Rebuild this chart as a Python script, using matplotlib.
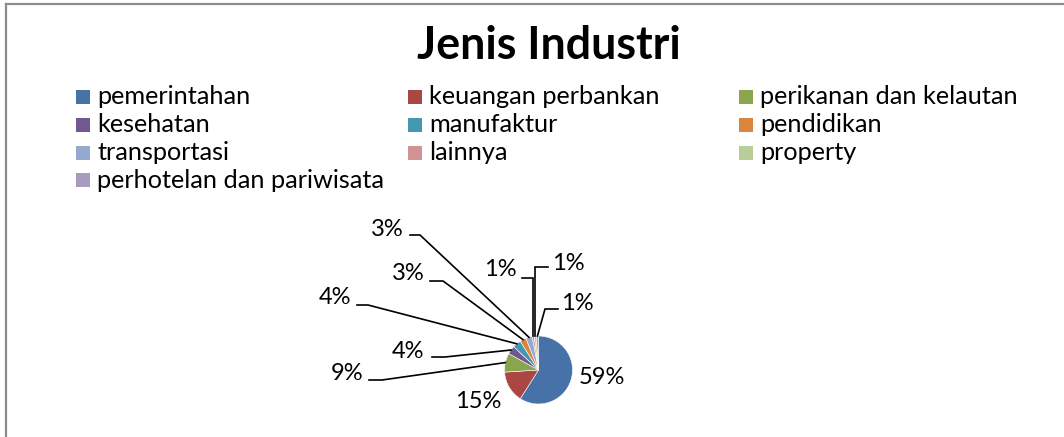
import numpy as np
import matplotlib
matplotlib.use("Agg")
import matplotlib.pyplot as plt
from matplotlib.patches import Rectangle
from matplotlib.lines import Line2D

plt.rcParams['font.family'] = ['Lato', 'DejaVu Sans']

# data
categories = ['pemerintahan', 'keuangan perbankan', 'perikanan dan kelautan',
              'kesehatan', 'manufaktur', 'pendidikan',
              'transportasi', 'lainnya', 'property',
              'perhotelan dan pariwisata']
shares = [59, 15, 9, 4, 4, 3, 3, 1, 1, 1]
colors = ['#4672A8', '#AA4643', '#89A54E', '#71588F', '#4198AF',
          '#DB843D', '#93A9CF', '#D19392', '#B9CD96', '#A99BBD']
title = 'Jenis Industri'

W, H = 1064, 437

# label layout in image pixels: text centre, leader start x, leader y, elbow x
# (elbow None -> straight up from the wedge)
label_layout = [
    (602, 378, None, None, None),
    (478, 402, None, None, None),
    (347, 373, 369, 380, 382),
    (408, 352, 432, 357, 445),
    (335, 298, 357, 305, 368),
    (408, 273, 430, 281, 443),
    (387, 230, 410, 235, 420),
    (500, 270, 522, 278, None),
    (568, 263, 548, 267, None),
    (577, 303, 558, 309, 545),
]

fig = plt.figure(figsize=(W / 100, H / 100), dpi=100)
ax = fig.add_axes([0, 0, 1, 1])
ax.set_xlim(0, W)
ax.set_ylim(0, H)
ax.set_aspect('equal')
ax.axis('off')

def fy(y):
    return H - y

# chart border (only top and left visible in the crop)
ax.add_line(Line2D([5.5, 5.5], [0, fy(3.5)], color='#8c8c8c', lw=1.6))
ax.add_line(Line2D([5.5, W], [fy(3.5), fy(3.5)], color='#8c8c8c', lw=1.6))

ax.text(549, fy(46), title, ha='center', va='center',
        fontsize=32.3, fontweight='bold')

# legend, row-major in three columns
col_x = [76, 408, 739]
row_y = [97, 125, 153, 180]
for i, (name, c) in enumerate(zip(categories, colors)):
    r, k = divmod(i, 3)
    x, y = col_x[k], row_y[r]
    ax.add_patch(Rectangle((x, fy(y + 7)), 14, 14, facecolor=c, edgecolor='none'))
    ax.text(x + 21, fy(y), name, ha='left', va='center', fontsize=18.2)

# pie
cx, cy, rad = 538.5, 370, 34
wedges, _ = ax.pie(shares, colors=colors, startangle=90, counterclock=False,
                   center=(cx, fy(cy)), radius=rad,
                   wedgeprops=dict(edgecolor='white', linewidth=0.4))
ax.set_xlim(0, W)
ax.set_ylim(0, H)

for w, val, (tx, ty, x0, ly, x1) in zip(wedges, shares, label_layout):
    ax.text(tx, fy(ty), f'{val}%', ha='center', va='center', fontsize=17)
    if x0 is None:
        continue
    mid = np.deg2rad((w.theta1 + w.theta2) / 2)
    axp = cx + rad * np.cos(mid)
    ayp = fy(cy) + rad * np.sin(mid)
    ex = axp if x1 is None else x1
    ax.plot([x0, ex, axp], [fy(ly), fy(ly), ayp], color='black', lw=1.2,
            solid_joinstyle='miter')

fig.savefig('out.png', dpi=100)
